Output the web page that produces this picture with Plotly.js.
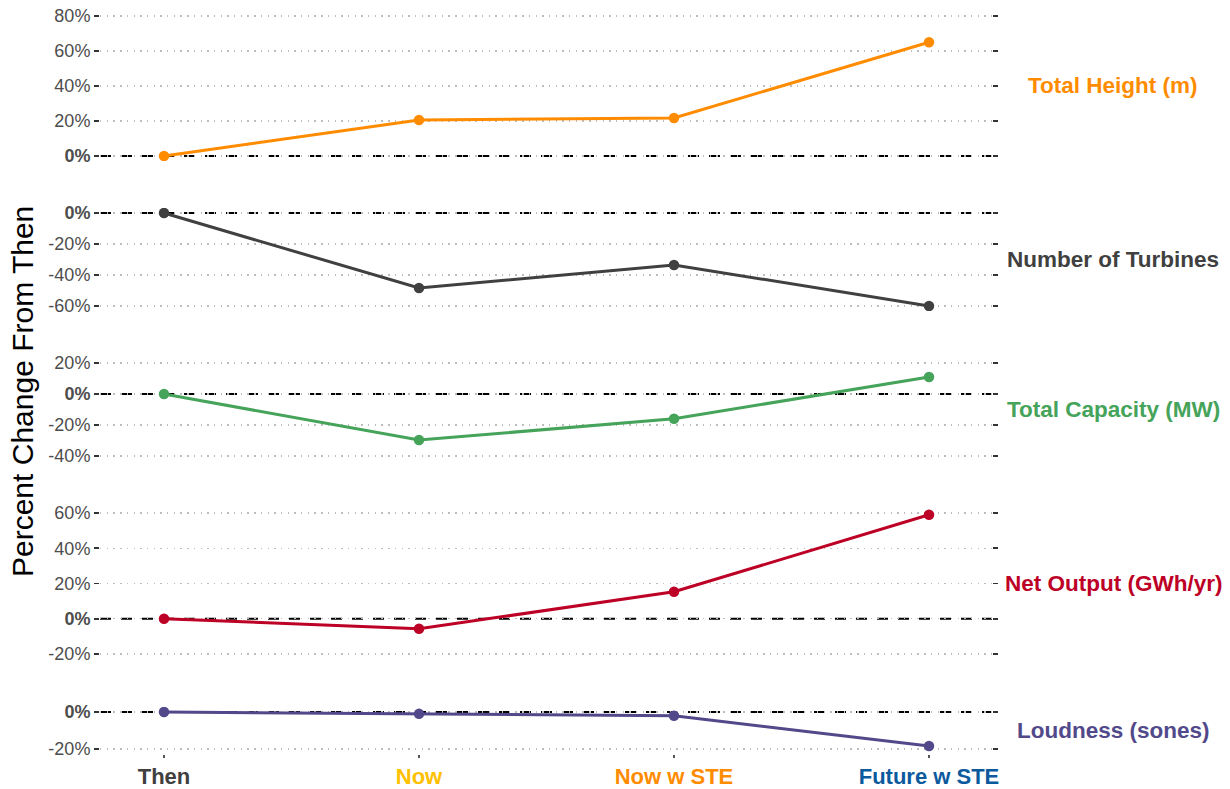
<!DOCTYPE html>
<html>
<head>
<meta charset="utf-8">
<script src="https://cdn.plot.ly/plotly-3.0.1.min.js"></script>
<style>html,body{margin:0;padding:0;background:#fff;}#chart{width:1230px;height:789px;}</style>
</head>
<body>
<div id="chart"></div>
<script>
// ---- data ----
const categories = ["Then", "Now", "Now w STE", "Future w STE"];
const categoryColors = ["#404040", "#FFC000", "#FF8C00", "#0B5A9E"];
const metricNames = ["Total Height (m)", "Number of Turbines", "Total Capacity (MW)", "Net Output (GWh/yr)", "Loudness (sones)"];
const metricColors = ["#FF8C00", "#404040", "#45A35A", "#BD0026", "#51498A"];
const totalHeight = [0, 20.6, 21.7, 65];
const numberOfTurbines = [0, -48.4, -33.5, -60];
const totalCapacity = [0, -29.7, -16, 11];
const netOutput = [0, -5.7, 15.3, 59];
const loudness = [0, -1, -2, -18.4];
const tickValsPerPanel = [[0, 20, 40, 60, 80], [-60, -40, -20, 0], [-40, -20, 0, 20], [-20, 0, 20, 40, 60], [-20, 0]];
const yTitle = "Percent Change From Then";

// ---- layout geometry ----
const W = 1230, H = 789;
const series = [totalHeight, numberOfTurbines, totalCapacity, netOutput, loudness];
const panelPx = [[11, 161], [208, 311], [358, 461], [508, 659], [707, 754]];
const panelRange = [[-2.86, 82.86], [-63.23, 3.23], [-43.23, 23.23], [-22.84, 62.84], [-22.7, 2.7]];
const xDom = [100 / W, 992 / W];
const font = "Liberation Sans, Arial, sans-serif";

const traces = [];
const layout = {
  width: W, height: H,
  margin: {l: 0, r: 0, t: 0, b: 0},
  paper_bgcolor: "#fff", plot_bgcolor: "#fff",
  showlegend: false,
  font: {family: font},
  shapes: [], annotations: [],
  xaxis: {
    domain: xDom, anchor: "y5",
    range: [-(164 - 100) / 255, 3 + (992 - 929) / 255],
    tickmode: "array", tickvals: [0, 1, 2, 3],
    ticktext: categories.map((c, i) => `<b><span style="color:${categoryColors[i]}">${c}</span></b>`),
    tickfont: {size: 22, family: font},
    ticks: "outside", ticklen: 3, tickwidth: 1.2, tickcolor: "#555",
    showgrid: false, zeroline: false, showline: false
  }
};

series.forEach((vals, i) => {
  const n = i + 1;
  const yname = n === 1 ? "y" : "y" + n;
  traces.push({
    x: [0, 1, 2, 3], y: vals, xaxis: "x", yaxis: yname,
    type: "scatter", mode: "lines+markers",
    line: {color: metricColors[i], width: 3},
    marker: {color: metricColors[i], size: 10.5},
    hoverinfo: "skip"
  });
  const tv = tickValsPerPanel[i];
  layout["yaxis" + (n === 1 ? "" : n)] = {
    domain: [1 - panelPx[i][1] / H, 1 - panelPx[i][0] / H],
    range: panelRange[i], anchor: "x",
    tickmode: "array", tickvals: tv,
    ticktext: tv.map(v => v === 0 ? "<b>0%</b>" : v + "%"),
    tickfont: {size: 18, color: "#4d4d4d", family: font},
    ticks: "outside", ticklen: 5, tickwidth: 1.6, tickcolor: "#333",
    mirror: "ticks", showline: false,
    showgrid: true, gridcolor: "#bdbdbd", gridwidth: 1.2, griddash: "1.4px,5.3px",
    zeroline: false, fixedrange: true
  };
  layout.shapes.push({
    type: "line", xref: "paper", yref: yname,
    x0: xDom[0], x1: xDom[1], y0: 0, y1: 0,
    line: {color: "#000", width: 2.2, dash: "11px,10px"}, layer: "below"
  });
  layout.annotations.push({
    xref: "paper", yref: yname + " domain",
    x: 1113 / W, y: 0.5, xanchor: "center", yanchor: "middle",
    text: `<b>${metricNames[i]}</b>`, showarrow: false,
    font: {size: 22.5, color: metricColors[i], family: font}
  });
});

layout.annotations.push({
  xref: "paper", yref: "paper", x: 22 / W, y: 1 - 392 / H,
  xanchor: "center", yanchor: "middle", textangle: -90,
  text: yTitle, showarrow: false,
  font: {size: 30, color: "#000", family: font}
});

Plotly.newPlot("chart", traces, layout, {displayModeBar: false, staticPlot: true});
</script>
</body>
</html>
